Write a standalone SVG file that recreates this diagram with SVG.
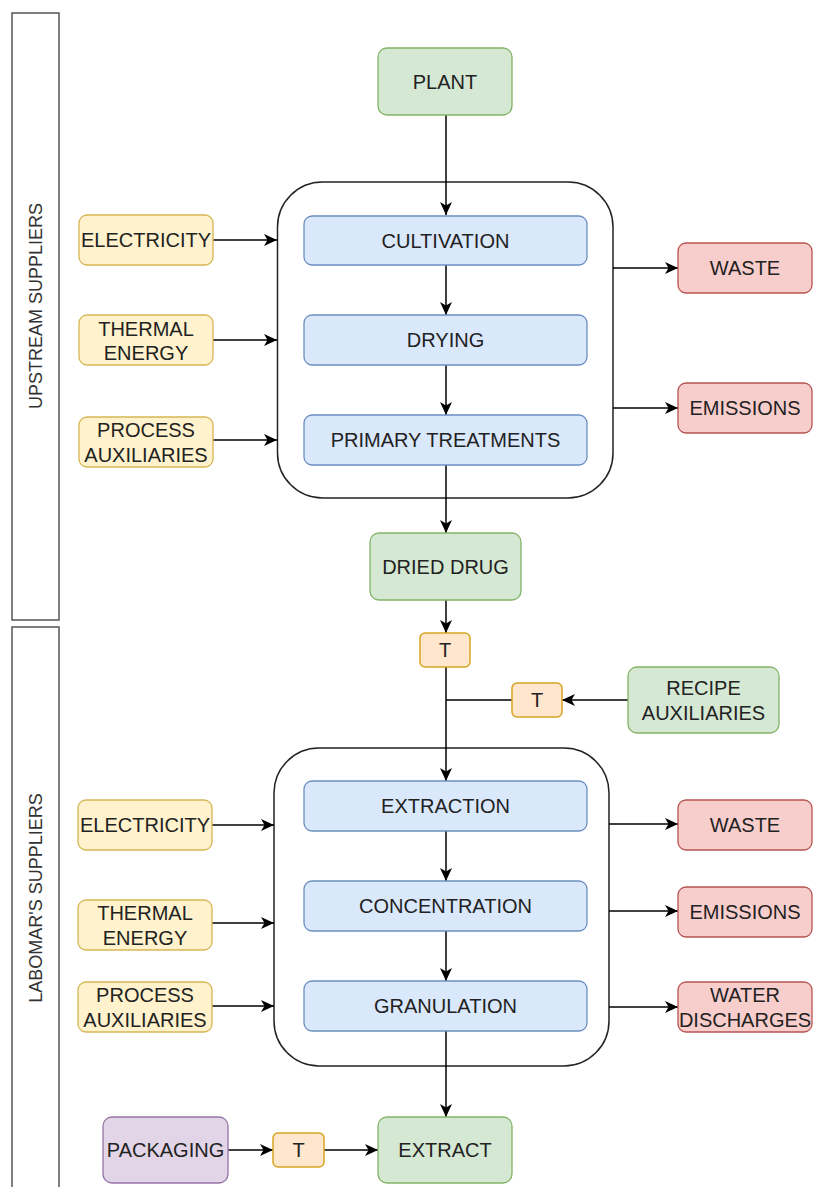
<svg xmlns="http://www.w3.org/2000/svg" width="813" height="1187" viewBox="0 0 813 1187">
<defs>
<marker id="arr" markerWidth="14" markerHeight="14" refX="13" refY="7" orient="auto" markerUnits="userSpaceOnUse">
<path d="M0,1 L13,7 L0,13 L3.5,7 z" fill="#000"/>
</marker>
<style>
text{font-family:"Liberation Sans",Arial,sans-serif;font-size:20px;fill:#222;text-anchor:middle;dominant-baseline:central}
.band{fill:#fff;stroke:#555;stroke-width:1.5}
.cont{fill:#fff;stroke:#222;stroke-width:1.5}
.g{fill:#d5e8d4;stroke:#82b366;stroke-width:1.3}
.b{fill:#dae8fc;stroke:#6c8ebf;stroke-width:1.3}
.y{fill:#fff2cc;stroke:#d6b656;stroke-width:1.3}
.r{fill:#f8cecc;stroke:#b85450;stroke-width:1.3}
.o{fill:#ffe6cc;stroke:#d6a520;stroke-width:1.5}
.p{fill:#e1d5e7;stroke:#9673a6;stroke-width:1.3}
.c path{fill:none;stroke:#000;stroke-width:1.5}
.lab{font-size:18px;fill:#333}
</style>
</defs>
<rect width="813" height="1187" fill="#fff"/>
<g id="band-upstream"><rect class="band" x="12" y="13" width="47" height="607"/><text class="lab" transform="translate(36,306) rotate(-90)">UPSTREAM SUPPLIERS</text></g>
<g id="band-labomar"><rect class="band" x="12" y="627" width="47" height="570"/><text class="lab" transform="translate(36,898) rotate(-90)">LABOMAR'S SUPPLIERS</text></g>
<g id="container-upstream"><rect class="cont" x="277.5" y="182" width="335.5" height="316" rx="45"/></g>
<g id="container-labomar"><rect class="cont" x="274" y="748" width="335" height="318" rx="45"/></g>
<g class="c" id="connectors">
<path d="M446 115 V215" marker-end="url(#arr)"/>
<path d="M446 265 V315" marker-end="url(#arr)"/>
<path d="M446 365 V415" marker-end="url(#arr)"/>
<path d="M446 465 V533" marker-end="url(#arr)"/>
<path d="M446 600 V633" marker-end="url(#arr)"/>
<path d="M446 667 V781" marker-end="url(#arr)"/>
<path d="M512 700 H446"/>
<path d="M628 700 H562" marker-end="url(#arr)"/>
<path d="M446 831 V881" marker-end="url(#arr)"/>
<path d="M446 931 V981" marker-end="url(#arr)"/>
<path d="M446 1031 V1117" marker-end="url(#arr)"/>
<path d="M213 240 H277" marker-end="url(#arr)"/>
<path d="M213 340 H277" marker-end="url(#arr)"/>
<path d="M213 440 H277" marker-end="url(#arr)"/>
<path d="M613 268 H678" marker-end="url(#arr)"/>
<path d="M613 408 H678" marker-end="url(#arr)"/>
<path d="M212 825 H274" marker-end="url(#arr)"/>
<path d="M212 923 H274" marker-end="url(#arr)"/>
<path d="M212 1006 H274" marker-end="url(#arr)"/>
<path d="M609 824 H678" marker-end="url(#arr)"/>
<path d="M609 911 H678" marker-end="url(#arr)"/>
<path d="M609 1007 H678" marker-end="url(#arr)"/>
<path d="M228 1150 H273" marker-end="url(#arr)"/>
<path d="M324 1150 H378" marker-end="url(#arr)"/>
</g>
<g id="plant"><rect class="g" x="378" y="48" width="134" height="67" rx="9"/><text x="445" y="82">PLANT</text></g>
<g id="cultivation"><rect class="b" x="304" y="216" width="283" height="49" rx="8"/><text x="445.5" y="241">CULTIVATION</text></g>
<g id="drying"><rect class="b" x="304" y="315" width="283" height="50" rx="8"/><text x="445.5" y="340">DRYING</text></g>
<g id="primary"><rect class="b" x="304" y="415" width="283" height="50" rx="8"/><text x="445.5" y="440">PRIMARY TREATMENTS</text></g>
<g id="elec1"><rect class="y" x="79" y="215" width="134" height="50" rx="8"/><text x="146" y="240">ELECTRICITY</text></g>
<g id="thermal1"><rect class="y" x="79" y="315" width="134" height="50" rx="8"/><text x="146" y="329">THERMAL</text><text x="146" y="353">ENERGY</text></g>
<g id="aux1"><rect class="y" x="79" y="417" width="134" height="50" rx="8"/><text x="146" y="430">PROCESS</text><text x="146" y="455">AUXILIARIES</text></g>
<g id="waste1"><rect class="r" x="678" y="243" width="134" height="50" rx="8"/><text x="745" y="268">WASTE</text></g>
<g id="emis1"><rect class="r" x="678" y="383" width="134" height="50" rx="8"/><text x="745" y="408">EMISSIONS</text></g>
<g id="drieddrug"><rect class="g" x="370" y="533" width="151" height="67" rx="9"/><text x="445.5" y="567">DRIED DRUG</text></g>
<g id="t1"><rect class="o" x="420" y="633" width="50" height="34" rx="5"/><text x="445" y="650">T</text></g>
<g id="t2"><rect class="o" x="512" y="683" width="50" height="34" rx="5"/><text x="537" y="700">T</text></g>
<g id="recipe"><rect class="g" x="628" y="667" width="151" height="66" rx="9"/><text x="703.5" y="688">RECIPE</text><text x="703.5" y="713">AUXILIARIES</text></g>
<g id="extraction"><rect class="b" x="304" y="781" width="283" height="50" rx="8"/><text x="445.5" y="806">EXTRACTION</text></g>
<g id="concentration"><rect class="b" x="304" y="881" width="283" height="50" rx="8"/><text x="445.5" y="906">CONCENTRATION</text></g>
<g id="granulation"><rect class="b" x="304" y="981" width="283" height="50" rx="8"/><text x="445.5" y="1006">GRANULATION</text></g>
<g id="elec2"><rect class="y" x="78" y="800" width="134" height="50" rx="8"/><text x="145" y="825">ELECTRICITY</text></g>
<g id="thermal2"><rect class="y" x="78" y="900" width="134" height="50" rx="8"/><text x="145" y="913">THERMAL</text><text x="145" y="938">ENERGY</text></g>
<g id="aux2"><rect class="y" x="78" y="982" width="134" height="50" rx="8"/><text x="145" y="995">PROCESS</text><text x="145" y="1020">AUXILIARIES</text></g>
<g id="waste2"><rect class="r" x="678" y="800" width="134" height="50" rx="8"/><text x="745" y="825">WASTE</text></g>
<g id="emis2"><rect class="r" x="678" y="887" width="134" height="50" rx="8"/><text x="745" y="912">EMISSIONS</text></g>
<g id="water"><rect class="r" x="678" y="982" width="134" height="50" rx="8"/><text x="745" y="995">WATER</text><text x="745" y="1020">DISCHARGES</text></g>
<g id="packaging"><rect class="p" x="103" y="1117" width="125" height="66" rx="9"/><text x="165.5" y="1150">PACKAGING</text></g>
<g id="t3"><rect class="o" x="273" y="1133" width="51" height="34" rx="5"/><text x="298.5" y="1150">T</text></g>
<g id="extract"><rect class="g" x="378" y="1117" width="134" height="66" rx="9"/><text x="445" y="1150">EXTRACT</text></g>
</svg>
